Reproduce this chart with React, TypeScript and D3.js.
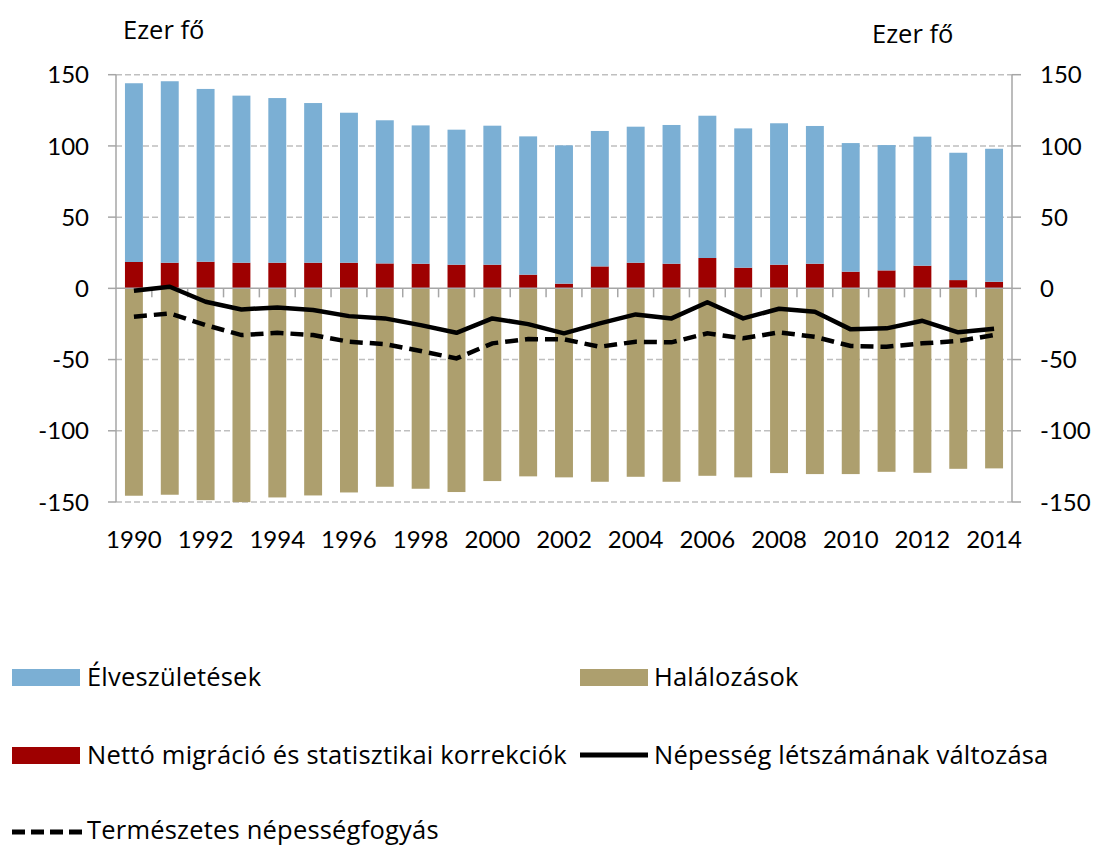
import React, { useEffect } from "react";
import { scaleBand, scaleLinear, line } from "d3";

const years = [
  "1990", "1991", "1992", "1993", "1994", "1995", "1996", "1997", "1998", "1999",
  "2000", "2001", "2002", "2003", "2004", "2005", "2006", "2007", "2008", "2009",
  "2010", "2011", "2012", "2013", "2014",
];

// ezer fő
const births = [
  125.5, 127.4, 121.3, 117.3, 115.6, 112.1, 105.3, 100.5, 97.1, 94.8,
  97.6, 97.1, 97.1, 95.1, 95.5, 97.4, 99.9, 97.8, 99.3, 96.7,
  90.3, 88.0, 90.6, 89.4, 93.4,
];
const migration = [
  18.5, 18.0, 18.7, 18.0, 18.0, 18.0, 18.0, 17.5, 17.3, 16.6,
  16.6, 9.6, 3.3, 15.4, 18.0, 17.3, 21.3, 14.5, 16.6, 17.3,
  11.7, 12.6, 15.9, 5.8, 4.6,
];
const deaths = [
  145.6, 144.9, 148.7, 150.1, 146.8, 145.4, 143.3, 139.3, 140.7, 143.0,
  135.3, 132.0, 132.7, 135.8, 132.3, 135.8, 131.6, 132.7, 129.7, 130.4,
  130.4, 128.8, 129.5, 126.7, 126.4,
];
const popChange = [
  -1.7, 1.1, -9.4, -14.8, -13.4, -15.2, -19.5, -21.1, -25.8, -31.2,
  -21.1, -25.1, -31.6, -24.6, -18.3, -21.1, -9.8, -21.1, -14.3, -16.4,
  -28.8, -28.1, -22.8, -30.9, -28.4,
];
const naturalDecrease = [
  -19.9, -17.6, -25.8, -32.8, -31.2, -32.8, -37.5, -39.1, -44.0, -49.2,
  -38.6, -35.6, -35.8, -41.0, -37.5, -37.9, -31.6, -35.1, -30.9, -34.0,
  -40.5, -41.0, -38.6, -37.0, -32.8,
];

const yTicks = [150, 100, 50, 0, -50, -100, -150];

const BLUE = "#7BAFD4";
const RED = "#9E0000";
const TAN = "#AD9F6E";
const NUM_FONT = "Lato, 'Open Sans', sans-serif";
const TEXT_FONT = "'Open Sans', Lato, sans-serif";

export default function App() {
  useEffect(() => {
    document.body.style.margin = "0";
  }, []);

  const W = 1096;
  const H = 847;
  const left = 116;
  const right = 1012;

  const x = scaleBand<string>()
    .domain(years)
    .range([left, right])
    .paddingInner(0.5)
    .paddingOuter(0.25);
  const y = scaleLinear().domain([-150, 150]).range([502, 74.7]);
  const step = x.step();
  const bw = x.bandwidth();
  const cx = (d: string) => (x(d) as number) + bw / 2;

  const lineGen = line<number>()
    .x((_, i) => cx(years[i]))
    .y((d) => y(d));

  const boundaries = years.map((_, i) => left + i * step).slice(1);

  return (
    <svg width={W} height={H} style={{ display: "block" }} fontFamily={NUM_FONT}>
      {/* gridlines */}
      {yTicks
        .filter((t) => t !== 0)
        .map((t) => (
          <line
            key={"g" + t}
            x1={left}
            x2={right}
            y1={y(t)}
            y2={y(t)}
            stroke="#BFBFBF"
            strokeWidth={1.5}
            strokeDasharray="6,3"
          />
        ))}

      {/* bars */}
      {years.map((yr, i) => (
        <g key={yr}>
          <rect x={x(yr)} width={bw} y={y(0)} height={y(-deaths[i]) - y(0)} fill={TAN} />
          <rect
            x={x(yr)}
            width={bw}
            y={y(migration[i])}
            height={y(0) - y(migration[i])}
            fill={RED}
          />
          <rect
            x={x(yr)}
            width={bw}
            y={y(migration[i] + births[i])}
            height={y(migration[i]) - y(migration[i] + births[i])}
            fill={BLUE}
          />
        </g>
      ))}

      {/* axes */}
      <line x1={left} x2={left} y1={y(150)} y2={y(-150)} stroke="#A6A6A6" strokeWidth={1.5} />
      <line x1={right} x2={right} y1={y(150)} y2={y(-150)} stroke="#A6A6A6" strokeWidth={1.5} />
      {yTicks.map((t) => (
        <g key={"t" + t}>
          <line x1={left - 8} x2={left} y1={y(t)} y2={y(t)} stroke="#A6A6A6" strokeWidth={1.5} />
          <line x1={right} x2={right + 9} y1={y(t)} y2={y(t)} stroke="#A6A6A6" strokeWidth={1.5} />
          <text x={89} y={y(t)} dy="0.36em" textAnchor="end" fontSize={24} fill="#000">
            {t}
          </text>
          <text x={1040} y={y(t)} dy="0.36em" textAnchor="start" fontSize={24} fill="#000">
            {t}
          </text>
        </g>
      ))}
      <line x1={left} x2={right} y1={y(0)} y2={y(0)} stroke="#A6A6A6" strokeWidth={1.5} />
      {boundaries.map((bx, i) => (
        <line key={"xt" + i} x1={bx} x2={bx} y1={y(0)} y2={y(0) + 9} stroke="#A6A6A6" strokeWidth={1.5} />
      ))}

      {/* lines */}
      <path d={lineGen(popChange) as string} fill="none" stroke="#000" strokeWidth={4.5} strokeLinejoin="round" />
      <path
        d={lineGen(naturalDecrease) as string}
        fill="none"
        stroke="#000"
        strokeWidth={4.5}
        strokeDasharray="13,7"
      />

      {/* x labels */}
      {years
        .filter((_, i) => i % 2 === 0)
        .map((yr) => (
          <text key={"xl" + yr} x={cx(yr)} y={548} textAnchor="middle" fontSize={24} fill="#000">
            {yr}
          </text>
        ))}

      {/* unit titles */}
      <g fontFamily={TEXT_FONT} fontSize={25.5} fill="#000">
        <text x={123} y={39}>Ezer fő</text>
        <text x={872} y={43}>Ezer fő</text>
      </g>

      {/* legend */}
      <g fontFamily={TEXT_FONT} fontSize={25.5} letterSpacing={0.2} fill="#000">
        <rect x={12} y={669} width={68} height={17} fill={BLUE} />
        <text x={87} y={677} dy="0.36em">Élveszületések</text>
        <rect x={580} y={669} width={68} height={17} fill={TAN} />
        <text x={654} y={677} dy="0.36em">Halálozások</text>

        <rect x={12} y={747} width={68} height={17} fill={RED} />
        <text x={87} y={755} dy="0.36em">Nettó migráció és statisztikai korrekciók</text>
        <line x1={580} x2={648} y1={755} y2={755} stroke="#000" strokeWidth={5} />
        <text x={654} y={755} dy="0.36em">Népesség létszámának változása</text>

        <line x1={12} x2={82} y1={832} y2={832} stroke="#000" strokeWidth={5} strokeDasharray="13,6" />
        <text x={87} y={830} dy="0.36em">Természetes népességfogyás</text>
      </g>
    </svg>
  );
}
